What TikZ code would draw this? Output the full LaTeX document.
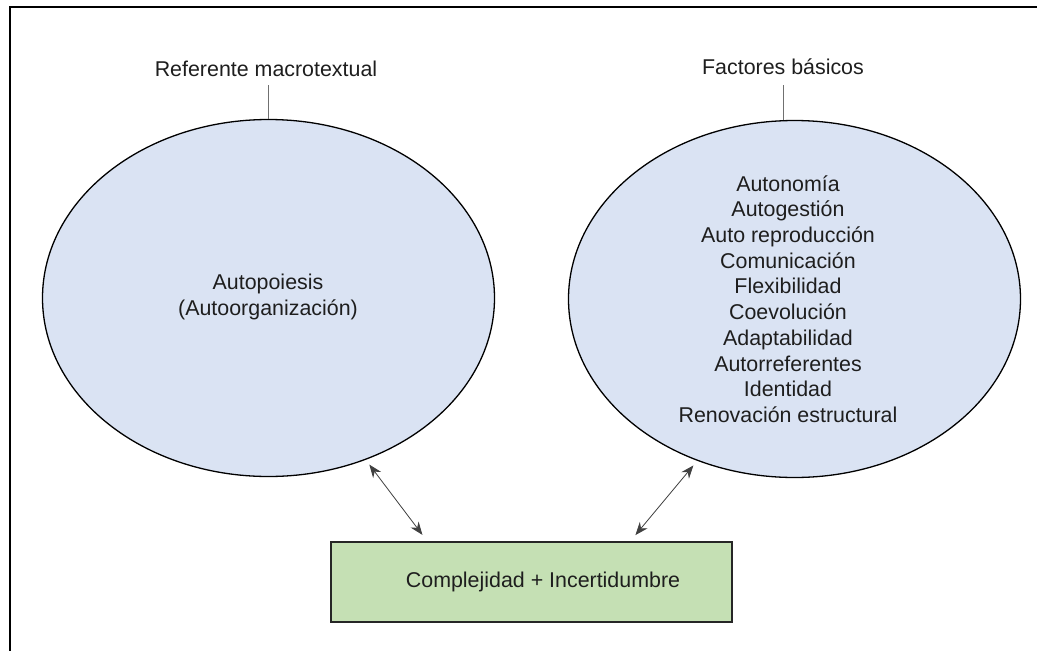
\documentclass[tikz,border=0pt]{standalone}
\usepackage{fontspec}
\setmainfont{Liberation Sans}
\usetikzlibrary{shapes.geometric,calc,arrows.meta}
\definecolor{ovalfill}{HTML}{DAE3F3}
\definecolor{boxfill}{HTML}{C5E0B4}
\definecolor{ink}{HTML}{1E1E1E}
\definecolor{stem}{HTML}{707070}
\begin{document}
\begin{tikzpicture}[x=1pt,y=-1pt,
  oval/.style={ellipse, draw=black, line width=1.3pt, fill=ovalfill,
    minimum width=452pt, minimum height=357pt, inner sep=0pt},
  txt/.style={text=ink, font=\fontsize{21.4}{25.7}\selectfont, align=center, inner sep=0pt},
  boxnode/.style={rectangle, draw=black!85, line width=1.5pt, fill=boxfill,
    minimum width=401pt, minimum height=80pt, inner sep=0pt},
  stemline/.style={draw=stem, line width=1pt},
  link/.style={draw=ink!85, line width=0.8pt,
    {Stealth[length=13pt,width=10pt]}-{Stealth[length=13pt,width=10pt]}}
]
\useasboundingbox (0,0) rectangle (1037,651);
\fill[white] (0,0) rectangle (1037,651);
% frame
\draw[line width=2pt] (10,651) -- (10,7) -- (1037,7);

% the two ovals
\node[oval] (L) at (268.5,298) {};
\node[oval] (R) at (794.5,299) {};
\node[txt] (Ltext) at (268,297) {Autopoiesis\\(Autoorganización)};
\node[txt] (Rtext) at (788,299) {Autonomía\\Autogestión\\Auto reproducción\\Comunicación\\Flexibilidad\\Coevolución\\Adaptabilidad\\Autorreferentes\\Identidad\\Renovación estructural};

% headings above the ovals
\node[txt, anchor=base] (labL) at (266,76) {Referente macrotextual};
\node[txt, anchor=base] (labR) at (783,74) {Factores básicos};
\coordinate (Rtop) at ([xshift=-11pt]R.north);
\draw[stemline] (L.north) -- ([yshift=-9pt]labL.base -| L.north);
\draw[stemline] (Rtop) -- ([yshift=-11pt]labR.base -| Rtop);

% bottom box
\node[boxnode] (cx) at (531.5,582) {};
\node[txt] (cxtext) at (543,582) {Complejidad + Incertidumbre};

% double-headed links
\draw[link, shorten <=6pt, shorten >=8pt] (L.-59.6) -- ($(cx.north west)+(97,0)$);
\draw[link, shorten <=6pt, shorten >=8pt] (R.-121.3) -- ($(cx.north west)+(300,0)$);
\end{tikzpicture}
\end{document}
